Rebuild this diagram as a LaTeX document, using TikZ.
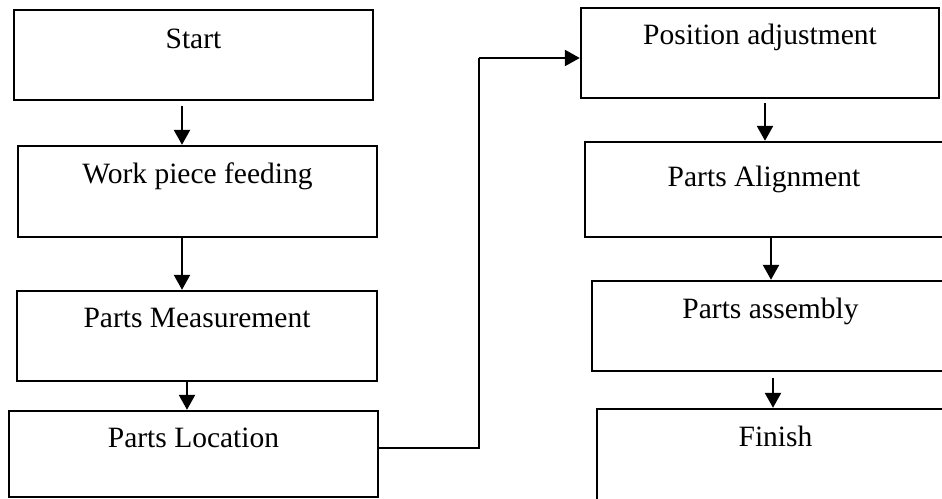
\documentclass[tikz,border=0pt]{standalone}
\usepackage{fontspec}
\setmainfont{Liberation Serif}
\usetikzlibrary{arrows.meta,calc}
\begin{document}
\begin{tikzpicture}[x=1pt,y=-1pt,
  box/.style={draw=black, line width=2.4pt, rectangle, inner sep=0pt, fill=white},
  txt/.style={font=\fontsize{29.5}{34}\selectfont, inner sep=0pt, anchor=base},
  arr/.style={draw=black, line width=2.4pt, -{Triangle[width=16pt,length=15pt]}},
  link/.style={draw=black, line width=2.4pt}]
\useasboundingbox (0,0) rectangle (942,498);
\clip (0,0) rectangle (942,498);
% boxes
\node[box, minimum width=359pt, minimum height=90pt] (start) at (193.5,55) {};
\node[box, minimum width=359pt, minimum height=91pt] (wpf) at (197.5,191.5) {};
\node[box, minimum width=360pt, minimum height=90pt] (pm) at (197,336) {};
\node[box, minimum width=369pt, minimum height=86pt] (pl) at (193.5,454) {};
\node[box, minimum width=358pt, minimum height=90pt] (pa) at (760,53) {};
\node[box, minimum width=358pt, minimum height=95pt] (pal) at (764,189.5) {};
\node[box, minimum width=357pt, minimum height=90pt] (pas) at (770.5,326) {};
\node[box, minimum width=357pt, minimum height=111pt] (fin) at (775.5,464.5) {};
% texts
\node[txt] (tstart) at ($(start.north)+(0,40)$) {Start};
\node[txt] (twpf) at ($(wpf.north)+(0,39)$) {Work piece feeding};
\node[txt] (tpm) at ($(pm.north)+(0,38)$) {Parts Measurement};
\node[txt] (tpl) at ($(pl.north)+(0,38)$) {Parts Location};
\node[txt] (tpa) at ($(pa.north)+(0,38)$) {Position adjustment};
\node[txt] (tpal) at ($(pal.north)+(0,46)$) {Parts Alignment};
\node[txt] (tpas) at ($(pas.north)+(0,39)$) {Parts assembly};
\node[txt] (tfin) at ($(fin.north)+(0,39)$) {Finish};
% arrow columns
\coordinate (c1) at (182,0);
\coordinate (c2) at (182,0);
\coordinate (c3) at (187,0);
\coordinate (c4) at (765,0);
\coordinate (c5) at (771,0);
\coordinate (c6) at (773,0);
\draw[arr] ($(start.south -| c1)+(0,5)$) -- (wpf.north -| c1);
\draw[arr] (wpf.south -| c2) -- (pm.north -| c2);
\draw[arr] (pm.south -| c3) -- (pl.north -| c3);
\draw[arr] ($(pa.south -| c4)+(0,4)$) -- (pal.north -| c4);
\draw[arr] (pal.south -| c5) -- (pas.north -| c5);
\draw[arr] ($(pas.south -| c6)+(0,6)$) -- (fin.north -| c6);
% long connector
\coordinate (b1) at (479,448);
\coordinate (b2) at (479,58);
\draw[link] (pl.east |- b1) -- (b1) -- (b2);
\draw[arr] (b2) -- (pa.west |- b2);
\end{tikzpicture}
\end{document}
